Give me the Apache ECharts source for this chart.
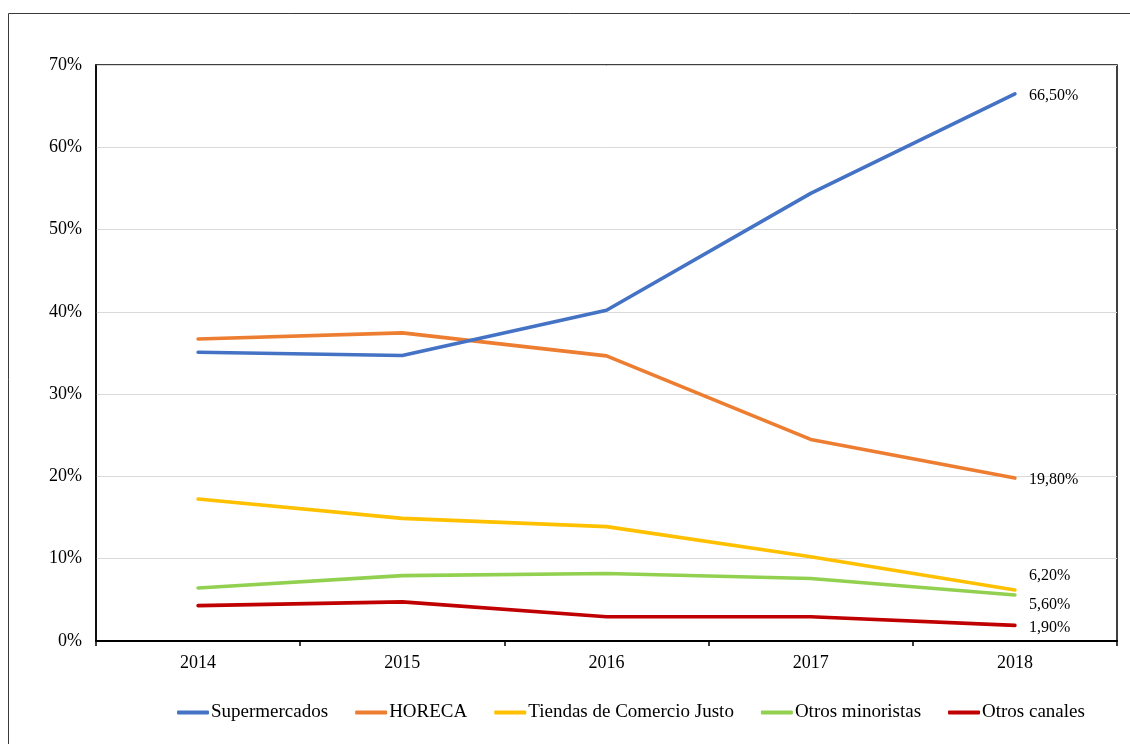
<!DOCTYPE html>
<html>
<head>
<meta charset="utf-8">
<script src="https://cdn.jsdelivr.net/npm/echarts@6/dist/echarts.min.js"></script>
<style>
  html, body { margin: 0; padding: 0; background: #fff; }
  #chart { width: 1130px; height: 744px; }
</style>
</head>
<body>
<div id="chart"></div>
<script>
// Years on the horizontal axis
const years = ['2014', '2015', '2016', '2017', '2018'];

// Share of sales per channel (%)
const supermercados = [35.1, 34.7, 40.2, 54.4, 66.5];
const horeca = [36.7, 37.45, 34.65, 24.5, 19.8];
const tiendasComercioJusto = [17.25, 14.9, 13.9, 10.25, 6.2];
const otrosMinoristas = [6.45, 7.95, 8.2, 7.6, 5.6];
const otrosCanales = [4.3, 4.75, 2.95, 2.95, 1.9];

const seriesNames = ['Supermercados', 'HORECA', 'Tiendas de Comercio Justo', 'Otros minoristas', 'Otros canales'];
const seriesColors = ['#4472C4', '#ED7D31', '#FFC000', '#92D050', '#C00000'];
const seriesData = [supermercados, horeca, tiendasComercioJusto, otrosMinoristas, otrosCanales];
// vertical nudge of the end label for each series
const labelShift = [2, 2, -14, 10, 2];

const serif = '"Liberation Serif", "Times New Roman", serif';

const chart = echarts.init(document.getElementById('chart'), null, { renderer: 'canvas' });

const series = seriesData.map((data, i) => ({
  name: seriesNames[i],
  type: 'line',
  data: data,
  showSymbol: false,
  symbol: 'none',
  smooth: false,
  lineStyle: { color: seriesColors[i], width: 3.6, cap: 'round', join: 'round' },
  itemStyle: { color: seriesColors[i] },
  endLabel: {
    show: true,
    distance: 14,
    offset: [0, labelShift[i]],
    formatter: p => Number(p.value).toFixed(2).replace('.', ',') + '%',
    fontFamily: serif,
    fontSize: 16,
    color: '#000'
  },
  emphasis: { disabled: true },
  z: 10 - i
}));

chart.setOption({
  animation: false,
  backgroundColor: '#fff',
  graphic: [{
    type: 'rect',
    shape: { x: 8.5, y: 13.5, width: 1300, height: 900 },
    style: { fill: 'none', stroke: '#3a3a3a', lineWidth: 1 },
    silent: true
  }],
  grid: {
    left: 96, right: 13, top: 65, bottom: 103,
    show: true, borderColor: '#000', borderWidth: 1.5
  },
  legend: {
    left: 172, top: 698,
    itemWidth: 32, itemHeight: 4, itemGap: 27,
    icon: 'roundRect',
    textStyle: { fontFamily: serif, fontSize: 19, color: '#000', padding: [0, 0, 0, -3] },
    data: seriesNames.map((n, i) => ({ name: n, itemStyle: { color: seriesColors[i] } }))
  },
  xAxis: {
    type: 'category',
    data: years,
    boundaryGap: true,
    axisLine: { lineStyle: { color: '#000', width: 2 } },
    axisTick: { show: true, length: 5, lineStyle: { color: '#000', width: 1.5 } },
    axisLabel: { fontFamily: serif, fontSize: 18, color: '#000', margin: 13 },
    splitLine: { show: false }
  },
  yAxis: {
    type: 'value',
    min: 0, max: 70, interval: 10,
    axisLine: { show: true, lineStyle: { color: '#000', width: 1.5 } },
    axisTick: { show: false },
    axisLabel: { fontFamily: serif, fontSize: 18, color: '#000', margin: 14, formatter: '{value}%' },
    splitLine: { show: true, lineStyle: { color: '#d9d9d9', width: 1 } }
  },
  series: series
});
</script>
</body>
</html>
